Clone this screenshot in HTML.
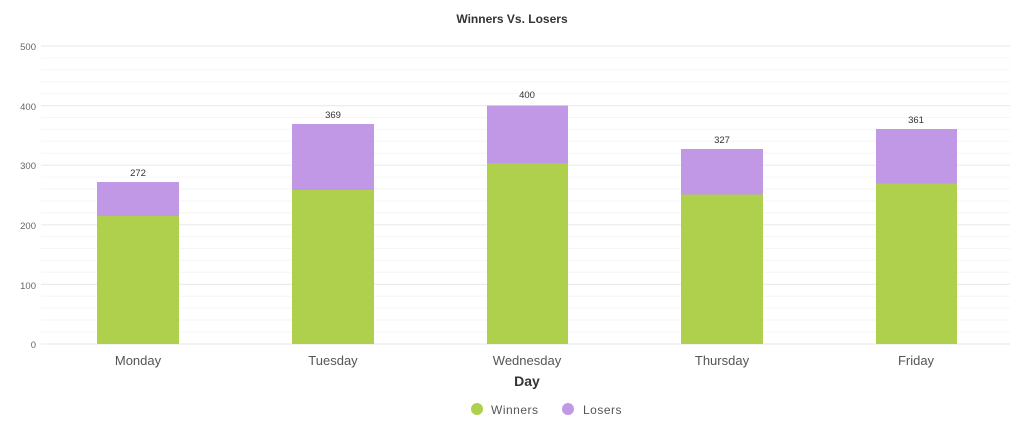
<!DOCTYPE html>
<html><head><style>html,body{margin:0;padding:0;background:#fff}svg{display:block}</style></head>
<body>
<svg width="1024" height="437" xmlns="http://www.w3.org/2000/svg" font-family="Liberation Sans, DejaVu Sans, sans-serif">
<text x="512" y="23" text-anchor="middle" font-size="12" font-weight="bold" fill="#333">Winners Vs. Losers</text>
<g stroke="#f6f6f6" stroke-width="1">
<line x1="41" x2="1010" y1="57.9" y2="57.9"/><line x1="41" x2="1010" y1="69.8" y2="69.8"/><line x1="41" x2="1010" y1="81.7" y2="81.7"/><line x1="41" x2="1010" y1="93.6" y2="93.6"/>
<line x1="41" x2="1010" y1="117.5" y2="117.5"/><line x1="41" x2="1010" y1="129.4" y2="129.4"/><line x1="41" x2="1010" y1="141.3" y2="141.3"/><line x1="41" x2="1010" y1="153.2" y2="153.2"/>
<line x1="41" x2="1010" y1="177.1" y2="177.1"/><line x1="41" x2="1010" y1="189" y2="189"/><line x1="41" x2="1010" y1="200.9" y2="200.9"/><line x1="41" x2="1010" y1="212.8" y2="212.8"/>
<line x1="41" x2="1010" y1="236.6" y2="236.6"/><line x1="41" x2="1010" y1="248.5" y2="248.5"/><line x1="41" x2="1010" y1="260.4" y2="260.4"/><line x1="41" x2="1010" y1="272.3" y2="272.3"/>
<line x1="41" x2="1010" y1="296.2" y2="296.2"/><line x1="41" x2="1010" y1="308.1" y2="308.1"/><line x1="41" x2="1010" y1="320" y2="320"/><line x1="41" x2="1010" y1="331.9" y2="331.9"/>
</g>
<g stroke="#ececec" stroke-width="1.2">
<line x1="41" x2="1010" y1="46" y2="46"/><line x1="41" x2="1010" y1="105.6" y2="105.6"/><line x1="41" x2="1010" y1="165.2" y2="165.2"/><line x1="41" x2="1010" y1="224.8" y2="224.8"/><line x1="41" x2="1010" y1="284.4" y2="284.4"/><line x1="41" x2="1010" y1="344" y2="344"/>
</g>
<g font-size="9.5" fill="#666" text-anchor="end">
<text x="36" y="50">500</text><text x="36" y="110">400</text><text x="36" y="169">300</text><text x="36" y="229">200</text><text x="36" y="289">100</text><text x="36" y="348">0</text>
</g>
<g fill="#c198e6">
<rect x="97" y="182" width="82" height="34"/>
<rect x="292" y="124" width="82" height="66"/>
<rect x="487" y="105.6" width="81" height="58"/>
<rect x="681" y="149" width="82" height="46"/>
<rect x="876" y="129" width="81" height="55"/>
</g>
<g fill="#afd04c">
<rect x="97" y="216" width="82" height="128"/>
<rect x="292" y="190" width="82" height="154"/>
<rect x="487" y="163.5" width="81" height="180.5"/>
<rect x="681" y="194.5" width="82" height="149.5"/>
<rect x="876" y="183.5" width="81" height="160.5"/>
</g>
<g font-size="9.5" fill="#333" text-anchor="middle">
<text x="138" y="176">272</text><text x="333" y="118">369</text><text x="527" y="98">400</text><text x="722" y="143">327</text><text x="916" y="123">361</text>
</g>
<g font-size="13" fill="#555" text-anchor="middle">
<text x="138" y="365">Monday</text><text x="333" y="365">Tuesday</text><text x="527" y="365">Wednesday</text><text x="722" y="365">Thursday</text><text x="916" y="365">Friday</text>
</g>
<text x="527" y="386" text-anchor="middle" font-size="14" font-weight="bold" fill="#333">Day</text>
<circle cx="477" cy="409" r="6" fill="#afd04c"/>
<text x="491" y="414" font-size="12" fill="#555" letter-spacing="0.5">Winners</text>
<circle cx="568" cy="409" r="6" fill="#c198e6"/>
<text x="583" y="414" font-size="12" fill="#555" letter-spacing="0.5">Losers</text>
</svg>
</body></html>
